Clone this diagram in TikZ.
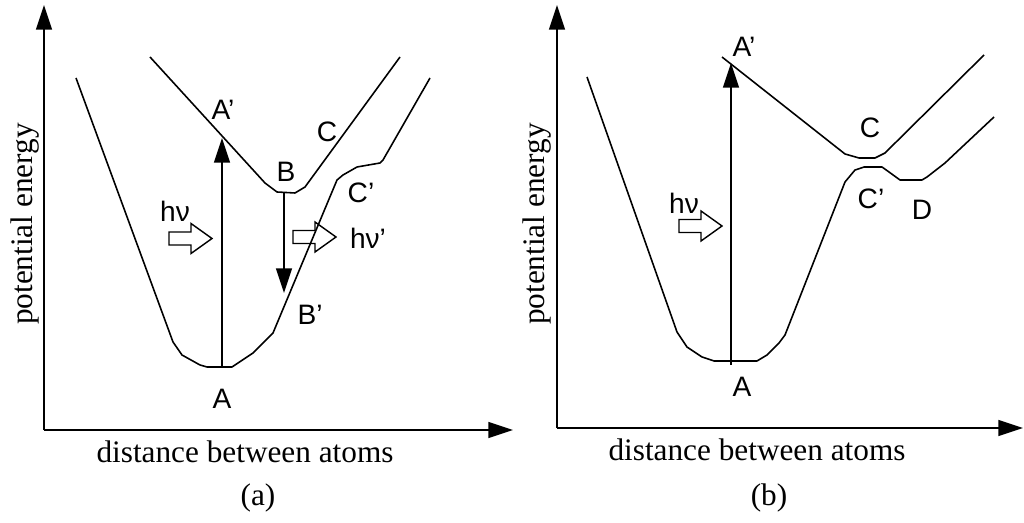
\documentclass[tikz,border=0pt]{standalone}
\usepackage{fontspec}
\setmainfont{Liberation Serif}
\newfontfamily\labelfont{Liberation Sans}
\usetikzlibrary{arrows.meta}

\begin{document}
\begin{tikzpicture}[
  x=0.02cm, y=-0.02cm,
  every node/.style={inner sep=0pt},
  lbl/.style={font=\labelfont\fontsize{16}{18}\selectfont},
  axlbl/.style={font=\fontsize{17.8}{21}\selectfont},
  curve/.style={line width=0.9pt,line join=round},
  axis/.style={-{Triangle[length=14pt,width=9pt]},line width=1.1pt},
  arr/.style={-{Triangle[length=14pt,width=9pt]},line width=0.9pt},
  hollow/.style={draw,fill=white,line width=0.8pt}
]
\useasboundingbox (0,0) rectangle (1024,523);
% (a): emission from the excited state
\coordinate (Oa) at (44,430);
\coordinate (Ya) at (44,5);
\coordinate (Xa) at (513,430);
\draw[axis] (Oa)--(Ya);
\draw[axis] (Oa)--(Xa);
\node[axlbl,rotate=90] (ylabA) at (25,224) {potential energy};
\node[axlbl] (xlabA) at (245,452) {distance between atoms};
\node[axlbl] (capA) at (258,498) {(a)};
\draw[hollow,shift={(169,238.5)}] (0,-6.5)--(22,-6.5)--(22,-15)--(43,0)--(22,15)--(22,6.5)--(0,6.5)--cycle;
\draw[hollow,shift={(293,237)}] (0,-6.5)--(22,-6.5)--(22,-15)--(43,0)--(22,15)--(22,6.5)--(0,6.5)--cycle;
\draw[curve] (76,78)--(173,342)--(182,355)--(200,365)--(207,367)--(232,367)--(253,353)--(273,333)
  --(337,180)--(343,175)--(357,167)--(380,163)--(383,160)--(430,78);
\draw[curve] (150,57)--(265,183)--(277,192)--(295,193)--(305,187)--(400,57);
\coordinate (gndA) at (222,367);
\coordinate (excA) at (222,138);
\coordinate (topB) at (284,193);
\coordinate (botB) at (284,293);
\draw[arr] (gndA)--(excA);
\draw[arr] (topB)--(botB);
\node[lbl] (a-Ap) at (223,110) {A’};
\node[lbl] (a-C) at (327,132) {C};
\node[lbl] (a-B) at (286,172) {B};
\node[lbl] (a-Cp) at (361,193) {C’};
\node[lbl] (a-hv) at (175,211) {hν};
\node[lbl] (a-hvp) at (368,238) {hν’};
\node[lbl] (a-Bp) at (310,315) {B’};
\node[lbl] (a-A) at (222,399) {A};
% (b): crossing to the dissociative branch
\coordinate (Ob) at (557,428);
\coordinate (Yb) at (557,5);
\coordinate (Xb) at (1023,428);
\draw[axis] (Ob)--(Yb);
\draw[axis] (Ob)--(Xb);
\node[axlbl,rotate=90] (ylabB) at (537,224) {potential energy};
\node[axlbl] (xlabB) at (757,450) {distance between atoms};
\node[axlbl] (capB) at (769,498) {(b)};
\draw[hollow,shift={(679,226)}] (0,-6.5)--(22,-6.5)--(22,-15)--(43,0)--(22,15)--(22,6.5)--(0,6.5)--cycle;
\draw[curve] (587,77)--(677,332)--(687,347)--(702,357)--(714,361)--(757,361)--(767,355)--(779,343)--(785,335)
  --(845,182)--(855,170)--(864,167)--(882,167)--(889,172)--(900,180)--(922,180)--(927,177)--(945,163)--(994,117);
\draw[curve] (722,57)--(845,154)--(859,158)--(875,158)--(885,153)--(984,55);
\coordinate (gndB) at (731,365);
\coordinate (excB) at (731,63);
\draw[arr] (gndB)--(excB);
\node[lbl] (b-Ap) at (744,47) {A’};
\node[lbl] (b-C) at (870,128) {C};
\node[lbl] (b-Cp) at (871,199) {C’};
\node[lbl] (b-D) at (922,210) {D};
\node[lbl] (b-hv) at (684,203) {hν};
\node[lbl] (b-A) at (742,387) {A};
\end{tikzpicture}
\end{document}
